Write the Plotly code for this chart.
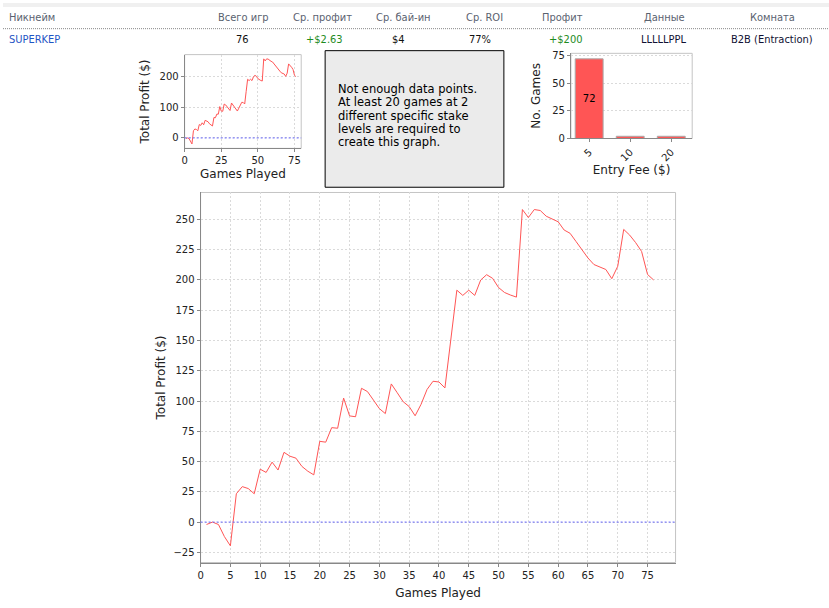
import plotly.graph_objects as go

W, H = 829, 608

# ---------------- data ----------------
games = list(range(1, 77))
profit = [-2, 0, -2, -12, -19.6, 23.4, 29.3, 27.7, 23.4, 43.7,
          41, 49.5, 43, 57.6, 54.4, 52.8, 46, 42, 39, 66.7,
          66, 78, 77.5, 102.4, 87.7, 87, 110.5, 107.8, 100.8, 93.7,
          89.6, 114.1, 106.8, 99.4, 95.4, 87.8, 97.3, 109.5, 116.3, 115.7,
          110.8, 151.3, 191.5, 187.2, 191.5, 187.2, 199.9, 204.3, 201.3, 193.7,
          189.6, 187.5, 185.8, 258.1, 251.5, 258.1, 257.3, 252.6, 250.2, 248,
          241.2, 238.5, 231.7, 224.9, 218.1, 212.7, 210.5, 208.6, 201, 211.3,
          241.7, 237, 230.8, 223.5, 204.5, 200]

fee_labels = ["5", "10", "20"]
fee_counts = [72, 2, 2]

header_labels = ["Никнейм", "Всего игр", "Ср. профит", "Ср. бай-ин", "Ср. ROI",
                 "Профит", "Данные", "Комната"]
row_values = ["SUPERKEP", "76", "+$2.63", "$4", "77%", "+$200", "LLLLLPPL", "B2B (Entraction)"]

message_lines = ["Not enough data points.", "At least 20 games at 2",
                 "different specific stake", "levels are required to",
                 "create this graph."]

# ---------------- helpers ----------------
def px_x(v):
    return v / W

def px_y(v):
    return 1 - v / H

FONT = "DejaVu Sans"
RED = "#FF5555"
GRID = "#DADADA"
AX = "#888888"

fig = go.Figure()

# small profit chart
fig.add_trace(go.Scatter(x=games, y=profit, mode="lines",
                         line=dict(color=RED, width=1), xaxis="x", yaxis="y",
                         showlegend=False, hoverinfo="skip"))
# bar chart
fig.add_trace(go.Bar(x=fee_labels, y=fee_counts, xaxis="x2", yaxis="y2",
                     marker=dict(color=RED, line=dict(color="#AAAAAA", width=1)),
                     width=0.68,
                     text=[str(v) if v > 10 else "" for v in fee_counts],
                     textposition="inside", insidetextanchor="middle",
                     textfont=dict(family=FONT, size=10, color="black"),
                     showlegend=False, hoverinfo="skip"))
# main profit chart
fig.add_trace(go.Scatter(x=games, y=profit, mode="lines",
                         line=dict(color=RED, width=1), xaxis="x3", yaxis="y3",
                         showlegend=False, hoverinfo="skip"))

tickfont = dict(family=FONT, size=10, color="#222222")
titlefont = dict(family=FONT, size=12, color="#222222")

def axis_common(**kw):
    d = dict(showline=True, linecolor=AX, linewidth=1, ticks="outside",
             ticklen=3, tickcolor=AX, tickfont=tickfont, zeroline=False,
             showgrid=True, gridcolor=GRID, griddash="2px,2px", gridwidth=1)
    d.update(kw)
    return d

dom_small_x = [px_x(182.3), px_x(299.3)]
dom_small_y = [px_y(147.3), px_y(52.3)]
dom_bar_x = [px_x(570), px_x(691.7)]
dom_bar_y = [px_y(137.3), px_y(51)]
dom_main_x = [px_x(198.3), px_x(675)]
dom_main_y = [px_y(567), px_y(192)]

fig.update_layout(
    width=W, height=H,
    margin=dict(l=0, r=0, t=0, b=0),
    paper_bgcolor="white", plot_bgcolor="white",
    font=dict(family=FONT),
    xaxis=axis_common(domain=dom_small_x, anchor="y", range=[0, 79.6],
                      tickvals=[0, 25, 50, 75],
                      title=dict(text="Games Played", font=titlefont, standoff=4)),
    yaxis=axis_common(domain=dom_small_y, anchor="x", range=[-34, 272],
                      tickvals=[0, 100, 200],
                      title=dict(text="Total Profit ($)", font=titlefont, standoff=7)),
    xaxis2=axis_common(domain=dom_bar_x, anchor="y2", type="category",
                       range=[-0.444, 2.51], showgrid=False, tickangle=-45,
                       title=dict(text="Entry Fee ($)", font=titlefont, standoff=2)),
    yaxis2=axis_common(domain=dom_bar_y, anchor="x2", range=[0, 77],
                       tickvals=[0, 25, 50, 75],
                       title=dict(text="No. Games", font=titlefont, standoff=8)),
    xaxis3=axis_common(domain=dom_main_x, anchor="y3", range=[0, 79.7],
                       dtick=5, tick0=0,
                       title=dict(text="Games Played", font=titlefont, standoff=9)),
    yaxis3=axis_common(domain=dom_main_y, anchor="x3", range=[-33.4, 272.2],
                       dtick=25, tick0=0,
                       title=dict(text="Total Profit ($)", font=titlefont, standoff=5)),
)

shapes = []
# light plot borders (top/right)
for xr, yr in [("x", "y"), ("x2", "y2"), ("x3", "y3")]:
    shapes.append(dict(type="rect", xref=xr + " domain", yref=yr + " domain",
                       x0=0, x1=1, y0=0, y1=1, layer="below",
                       line=dict(color="#C4C4C4", width=1)))
# zero lines (blue dotted)
for xr, yr in [("x", "y"), ("x3", "y3")]:
    shapes.append(dict(type="line", xref=xr + " domain", yref=yr,
                       x0=0, x1=1, y0=0, y1=0,
                       line=dict(color="#6666FF", width=1, dash="2px,2px")))
# top gray strip
shapes.append(dict(type="rect", xref="paper", yref="paper", x0=0, x1=1,
                   y0=px_y(4), y1=1, fillcolor="#F0F0F0", line=dict(width=0),
                   layer="below"))
# dotted separator under header
shapes.append(dict(type="line", xref="paper", yref="paper", x0=0, x1=1,
                   y0=px_y(26), y1=px_y(26),
                   line=dict(color="#888888", width=1, dash="1px,1px")))
# message box
shapes.append(dict(type="rect", xref="paper", yref="paper",
                   x0=px_x(323.3), x1=px_x(502.7), y0=px_y(186.7), y1=px_y(48.3),
                   fillcolor="#EBEBEB", line=dict(color="black", width=1)))
fig.update_layout(shapes=shapes)

annotations = []
HFONT = "DejaVu Sans Condensed, DejaVu Sans, sans-serif"
header_x = [4, 241, 321, 401.7, 483, 562, 664, 772.7]
row_x = [4, 240.3, 322.5, 397, 479, 565, 663, 772]
row_colors = ["#1F55C4", "#111111", "#1E8B1E", "#111111", "#111111",
              "#1E8B1E", "#111133", "#111133"]
for i, (lab, val) in enumerate(zip(header_labels, row_values)):
    anchor = "left" if i == 0 else "center"
    annotations.append(dict(text=lab, xref="paper", yref="paper",
                            x=px_x(header_x[i]), y=px_y(15), xanchor=anchor,
                            yanchor="middle", showarrow=False,
                            font=dict(family=HFONT, size=11, color="#5A6270")))
    annotations.append(dict(text=val, xref="paper", yref="paper",
                            x=px_x(row_x[i]), y=px_y(37), xanchor=anchor,
                            yanchor="middle", showarrow=False,
                            font=dict(family=HFONT, size=11, color=row_colors[i])))
for k, line in enumerate(message_lines):
    annotations.append(dict(text=line, xref="paper", yref="paper",
                            x=px_x(334), y=px_y(87.3 + 13.5 * k), xanchor="left",
                            yanchor="middle", showarrow=False,
                            font=dict(family=FONT, size=11.5, color="black")))
fig.update_layout(annotations=annotations)

fig.write_html("out.html",
               config={"displayModeBar": False},
               post_script="document.body.style.margin='0';"
                           "document.body.style.overflow='hidden';")
